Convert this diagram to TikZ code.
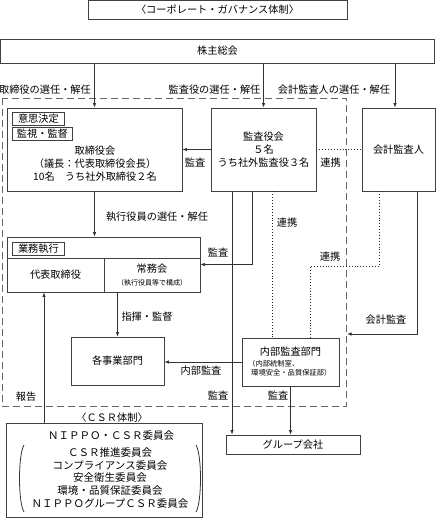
\documentclass[tikz,border=0pt]{standalone}
\usepackage{fontspec}
\setmainfont{Noto Sans CJK JP}
\usetikzlibrary{arrows.meta,calc}
\begin{document}
\begin{tikzpicture}[x=1pt,y=-1pt,
  every node/.style={inner sep=0pt, font=\fontsize{10.2}{13}\selectfont, text=black},
  box/.style={draw=black!75, line width=0.8pt, align=center},
  tag/.style={draw=black!75, line width=0.8pt, anchor=north west, inner xsep=0pt},
  ln/.style={draw=black!80, line width=0.8pt},
  arr/.style={ln, -{Latex[length=4.5pt,width=3.5pt]}},
  dotln/.style={draw=black!85, line width=0.9pt, dotted},
  dashfr/.style={draw=black!60, line width=0.9pt, dash pattern=on 7pt off 4pt},
  small/.style={font=\fontsize{7}{9}\selectfont},
  csrf/.style={font=\fontsize{10.5}{12.75}\selectfont, align=center},
]
\useasboundingbox (0,0) rectangle (436,519);

% dashed frame
\draw[dashfr] (2,98) rectangle (346,406);

% boxes
\node[box, minimum width=259pt, minimum height=19pt] (title) at (217.5,9.5) {〈コーポレート・ガバナンス体制〉};
\node[box, minimum width=434pt, minimum height=24pt] (kabu) at (217.5,51) {株主総会};

\node[box, minimum width=175pt, minimum height=83pt] (tori) at (94.5,149.5) {};
\node[tag, minimum width=52pt, minimum height=13pt] (ishi) at (12,112) {意思決定};
\node[tag, minimum width=60pt, minimum height=13pt] (kanshi) at (12,127) {監視・監督};
\node[align=center] (toritxt) at (95,164) {取締役会\\（議長：代表取締役会長）\\10名　うち社外取締役２名};

\node[box, minimum width=105pt, minimum height=83pt] (kansa) at (263.5,149.5) {監査役会\\５名\\うち社外監査役３名};
\node[box, minimum width=73pt, minimum height=83pt] (kaikei) at (398.5,149.5) {会計監査人};

\node[box, minimum width=193pt, minimum height=55pt] (gyomu) at (103.5,264.5) {};
\node[tag, minimum width=52pt, minimum height=13pt] (gyotag) at (12,242) {業務執行};
\node[box, minimum width=97pt, minimum height=34pt] (daihyo) at (55.5,275) {代表取締役};
\node[box, minimum width=96pt, minimum height=34pt] (jomu) at (152,275) {};
\node (jomut) at (152,269) {常務会};
\node[small] (jomus) at (152,282.5) {（執行役員等で構成）};

\node[box, minimum width=93pt, minimum height=48pt] (jigyo) at (117.5,361) {各事業部門};
\node[box, minimum width=97pt, minimum height=48pt] (naibu) at (290.5,362) {};
\node (naibut) at (290.5,352) {内部監査部門};
\node[small, align=left, anchor=north west, font=\fontsize{7.3}{9}\selectfont] (naibus) at (248,360.5) {（内部統制室、\\\hspace*{3pt}環境安全・品質保証部）};

\node[box, minimum width=134pt, minimum height=19pt] (group) at (293,444.5) {グループ会社};

\node[box, minimum width=196pt, minimum height=94pt] (csr) at (104,470) {};
\node[csrf] (csr1) at (111,435.5) {ＮＩＰＰＯ・ＣＳＲ委員会};
\node[csrf] (csr2) at (110,478) {ＣＳＲ推進委員会\\コンプライアンス委員会\\安全衛生委員会\\環境・品質保証委員会\\ＮＩＰＰＯグループＣＳＲ委員会};
\draw[ln] (24,445) .. controls (18,455) and (18,502) .. (24,512);
\draw[ln] (196,445) .. controls (202,455) and (202,502) .. (196,512);

% coordinates
\coordinate (k1) at ([xshift=-31.5pt]kansa.south);
\coordinate (k2) at ([xshift=-11.5pt]kansa.south);
\coordinate (k3) at ([xshift=8.5pt]kansa.south);
\coordinate (kk1) at ([xshift=-19.5pt]kaikei.south);
\coordinate (kk3) at ([xshift=18.5pt]kaikei.south);
\coordinate (n2) at ([xshift=19.5pt]naibu.north);
\coordinate (kae) at (347,334);
\coordinate (c1) at ([xshift=-60pt]csr.north);
\coordinate (kb3) at (kabu.south -| 395,0);

% connectors
\draw[arr] (tori.north |- kabu.south) -- (tori.north);
\draw[arr] (kansa.north |- kabu.south) -- (kansa.north);
\draw[arr] (kb3) -- (kb3 |- kaikei.north);
\draw[arr] (kansa.west) -- (tori.east);
\draw[dotln] (kansa.east) -- (kaikei.west);
\draw[arr] (tori.south) -- (tori.south |- gyomu.north);
\draw[arr] (k2) |- (gyomu.east);
\draw[arr] (k1) -- (k1 |- group.north);
\draw[dotln] (k3) -- (k3 |- naibu.north);
\draw[dotln] (kk1) -- ++(0,75) -| (n2);
\draw[arr] (kk3) |- (kae);
\draw[arr] (naibu.west) -- (naibu.west -| jigyo.east);
\draw[arr] (jigyo.north |- gyomu.south) -- (jigyo.north);
\draw[arr] (naibu.south) -- (naibu.south |- group.north);
\draw[arr] (c1) -- (c1 |- gyomu.south);

% labels
\node (l1) at (45,90) {取締役の選任・解任};
\node (l2) at (214.5,90) {監査役の選任・解任};
\node (l3) at (334,90) {会計監査人の選任・解任};
\node (l4) at (195,163) {監査};
\node (l5) at (330.5,163) {連携};
\node (l6) at (157,217) {執行役員の選任・解任};
\node (l7) at (287,223) {連携};
\node (l8) at (218,253) {監査};
\node (l9) at (330,257) {連携};
\node (l10) at (147,317) {指揮・監督};
\node (l11) at (386,320) {会計監査};
\node (l12) at (201,371) {内部監査};
\node (l13) at (26,397) {報告};
\node (l14) at (218,396) {監査};
\node (l15) at (278,396) {監査};
\node (l16) at (112,418) {〈ＣＳＲ体制〉};
\end{tikzpicture}
\end{document}
